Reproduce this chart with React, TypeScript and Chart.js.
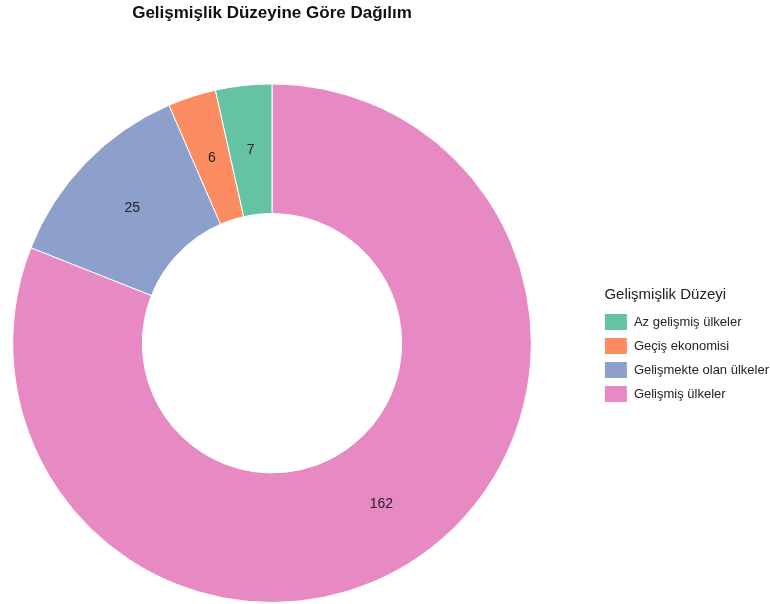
import React, { useEffect, useRef } from "react";
import { Chart, registerables } from "chart.js";

Chart.register(...registerables);

const chartTitle = "Gelişmişlik Düzeyine Göre Dağılım";
const legendTitle = "Gelişmişlik Düzeyi";
const categories = ["Az gelişmiş ülkeler", "Geçiş ekonomisi", "Gelişmekte olan ülkeler", "Gelişmiş ülkeler"];
const values = [7, 6, 25, 162];
const colors = ["#66C2A5", "#FC8D62", "#8DA0CB", "#E78AC3"];

const FONT = "'Liberation Sans', Arial, sans-serif";
const PIE_CENTER_X = 272;
const LEGEND_SHIFT_Y = 47;
const LEGEND_SHIFT_X = 9;

const sliceLabels = {
  id: "sliceLabels",
  afterDatasetsDraw(chart: any) {
    const ctx = chart.ctx;
    const meta = chart.getDatasetMeta(0);
    const data = chart.data.datasets[0].data;
    ctx.save();
    ctx.font = `14px ${FONT}`;
    ctx.fillStyle = "#222";
    ctx.textAlign = "center";
    ctx.textBaseline = "middle";
    meta.data.forEach((arc: any, i: number) => {
      const p = arc.getCenterPoint();
      ctx.fillText(String(data[i]), p.x, p.y);
    });
    ctx.restore();
  },
};

const layoutTweak = {
  id: "layoutTweak",
  afterInit(chart: any) {
    const lg = chart.legend;
    if (lg && !lg.__patched) {
      lg.__patched = true;
      const orig = lg.drawTitle.bind(lg);
      lg.drawTitle = function () {
        const ctx = chart.ctx;
        ctx.save();
        ctx.translate(7, 0);
        orig();
        ctx.restore();
      };
    }
  },
  afterLayout(chart: any) {
    const ca = chart.chartArea;
    const dx = PIE_CENTER_X - (ca.left + ca.right) / 2;
    ca.left += 2 * dx;
    ca.width = ca.right - ca.left;
    const tb = chart.titleBlock;
    if (tb) {
      tb.left += dx;
      tb.right += dx;
    }
    const lg = chart.legend;
    if (lg) {
      lg.top += LEGEND_SHIFT_Y;
      lg.bottom += LEGEND_SHIFT_Y;
      lg.left += LEGEND_SHIFT_X;
      lg.right += LEGEND_SHIFT_X;
    }
  },
};

export default function App() {
  const ref = useRef<HTMLCanvasElement>(null);
  useEffect(() => {
    if (!ref.current) return;
    const revLabels = [...categories].reverse();
    const revValues = [...values].reverse();
    const revColors = [...colors].reverse();
    const chart = new Chart(ref.current, {
      type: "doughnut",
      data: {
        labels: revLabels,
        datasets: [
          {
            data: revValues,
            backgroundColor: revColors,
            borderColor: "#ffffff",
            borderWidth: 1,
            hoverOffset: 0,
          },
        ],
      },
      options: {
        responsive: false,
        animation: false,
        cutout: "50%",
        layout: { padding: { left: 0, top: 0, right: 0, bottom: 1 } },
        plugins: {
          tooltip: { enabled: false },
          title: {
            display: true,
            text: chartTitle,
            fullSize: false,
            color: "#111",
            font: { family: FONT, size: 17, weight: "bold" },
            padding: { top: 3, bottom: 60 },
          },
          legend: {
            position: "right",
            reverse: true,
            title: {
              display: true,
              text: legendTitle,
              position: "start",
              color: "#222",
              font: { family: FONT, size: 15 },
              padding: { top: 0, bottom: 1 },
            },
            labels: {
              boxWidth: 23,
              boxHeight: 17,
              padding: 7,
              color: "#222",
              font: { family: FONT, size: 13 },
            },
          },
        },
      },
      plugins: [sliceLabels, layoutTweak],
    });
    return () => chart.destroy();
  }, []);
  return (
    <div style={{ position: "absolute", left: 0, top: 0, width: 770, height: 604, background: "#fff" }}>
      <canvas ref={ref} width={770} height={604} style={{ display: "block" }} />
    </div>
  );
}
